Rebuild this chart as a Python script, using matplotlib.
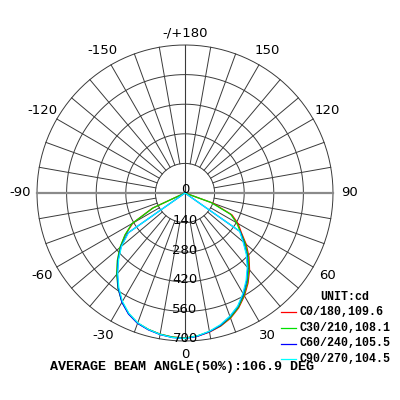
import numpy as np
import matplotlib
matplotlib.use("Agg")
from matplotlib import pyplot as plt

# gamma angles (deg), negative = C180.. side, positive = C0.. side
angles = np.arange(-90, 95, 5)

# intensity values (cd), from -90 to +90 in 5 deg steps
c0_180 = [0, 0, 0, 0, 0, 170, 285, 345, 400, 450, 500, 550, 595, 630, 655, 668, 678, 684,
          686,
          680, 668, 652, 630, 600, 562, 520, 475, 428, 378, 325, 290, 245, 140, 0, 0, 0, 0]
c30_210 = [0, 0, 0, 0, 0, 165, 290, 347, 402, 453, 503, 552, 596, 630, 655, 668, 678, 684,
           686,
           678, 666, 650, 627, 597, 558, 515, 470, 422, 372, 320, 282, 238, 130, 0, 0, 0, 0]
c60_240 = [0, 0, 0, 0, 0, 0, 0, 330, 395, 447, 498, 550, 597, 632, 656, 670, 680, 686,
           688,
           680, 666, 648, 622, 592, 552, 508, 462, 414, 362, 318, 0, 0, 0, 0, 0, 0, 0]
c90_270 = [0, 0, 0, 0, 0, 0, 0, 325, 392, 444, 495, 546, 592, 628, 653, 668, 679, 686,
           688,
           678, 664, 645, 620, 590, 548, 504, 458, 410, 358, 315, 0, 0, 0, 0, 0, 0, 0]

series = [c0_180, c30_210, c60_240, c90_270]
legend_labels = ['C0/180,109.6', 'C30/210,108.1', 'C60/240,105.5', 'C90/270,104.5']
colors = ['#ff0000', '#00e000', '#0000ff', '#00ffff']

rings = [140, 280, 420, 560, 700]
angle_labels = [-150, -120, -90, -60, -30, 0, 30, 60, 90, 120, 150]
beam_text = 'AVERAGE BEAM ANGLE(50%):106.9 DEG'

fig = plt.figure(figsize=(4, 4), dpi=100)
ax = fig.add_axes([0, 0, 1, 1])
s = 700 / 148.0  # cd per pixel
cx, cy = 185, 193
ax.set_xlim(-cx * s, (400 - cx) * s)
ax.set_ylim(-(400 - cy) * s, cy * s)
ax.axis('off')

grid_col = '#3a3a3a'
t = np.linspace(0, 2 * np.pi, 400)
for r in rings:
    ax.plot(r * np.cos(t), r * np.sin(t), color=grid_col, lw=0.7, zorder=1)

rmax = rings[-1]
for a in range(0, 360, 10):
    if a % 90 == 0:
        continue
    th = np.deg2rad(a)
    ax.plot([rings[0] * np.sin(th), rmax * np.sin(th)],
            [rings[0] * np.cos(th), rmax * np.cos(th)], color=grid_col, lw=0.7, zorder=1)
ax.plot([0, 0], [-rmax, rmax], color=grid_col, lw=0.8, zorder=1)
ax.plot([-rmax, rmax], [0, 0], color='#8a8a8a', lw=1.6, zorder=1)

# curves
for vals, c in zip(series, colors):
    th = np.deg2rad(angles)
    r = np.array(vals, dtype=float)
    ax.plot(r * np.sin(th), -r * np.cos(th), color=c, lw=0.9, zorder=3)

# ring labels
lab_font = dict(family='DejaVu Sans', fontsize=9.5, color='black')
ax.text(0, 0, '0', ha='center', va='baseline', zorder=4, **lab_font)
for r in rings:
    ax.text(0, -r - 7, str(r), ha='center', va='baseline', zorder=4, **lab_font)

# angle labels
R = 778
for a in angle_labels:
    th = np.deg2rad(a)
    rr = 762 if a == 0 else R
    ax.text(rr * np.sin(th), -rr * np.cos(th), str(a), ha='center', va='center', **lab_font)
ax.text(0, R - 20, '-/+180', ha='center', va='center', **lab_font)

# legend
mono = dict(family='Liberation Mono', fontweight='bold', color='black')
ax.text((320 - cx) * s, (cy - 297) * s, 'UNIT:cd', ha='left', va='center', fontsize=8.4, **mono)
ys = [312, 328, 343.5, 359]
for lab, c, yy in zip(legend_labels, colors, ys):
    ax.plot([(281 - cx) * s, (296 - cx) * s], [(cy - yy) * s] * 2, color=c, lw=0.9)
    ax.text((300 - cx) * s, (cy - yy) * s, lab, ha='left', va='center', fontsize=8.4, **mono)

ax.text((50 - cx) * s, (cy - 367) * s, beam_text, ha='left', va='center', fontsize=9.6, **mono)

fig.savefig('out.png', dpi=100, facecolor='white')
